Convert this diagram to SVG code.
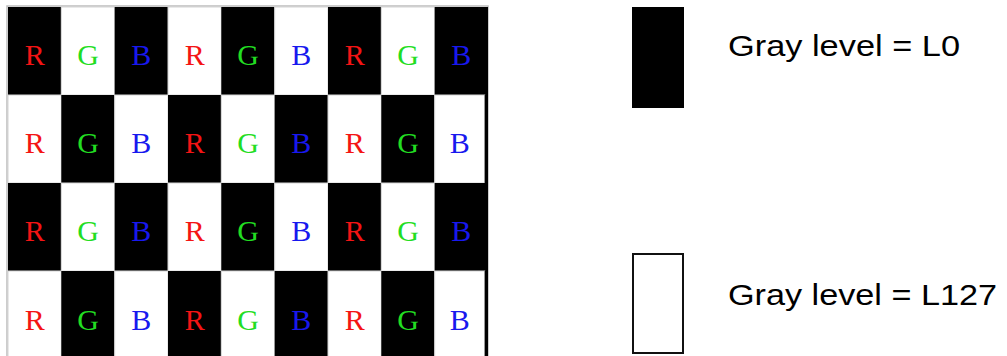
<svg xmlns="http://www.w3.org/2000/svg" width="1007" height="356" viewBox="0 0 1007 356">
<style>
.k{fill:#000}
.w{fill:#fff;stroke:#d4d4d4;stroke-width:1}
.c{font-family:"Liberation Serif","DejaVu Serif",serif;font-size:30px;text-anchor:middle}
.r{fill:#f41414}
.g{fill:#22dd22}
.b{fill:#1818ee}
.lab{font-family:"Liberation Sans",Arial,sans-serif;font-size:29px;fill:#000}
</style>
<rect width="1007" height="356" fill="#fff"/>
<g id="grid">
<rect x="7" y="6" width="481" height="360" fill="#fff" stroke="#bdbdbd" stroke-width="1.5"/>
<!-- row 1 -->
<rect class="k" x="8" y="7" width="53.3" height="88"/>
<rect class="w" x="61.3" y="7" width="53.3" height="88"/>
<rect class="k" x="114.7" y="7" width="53.3" height="88"/>
<rect class="w" x="168" y="7" width="53.3" height="88"/>
<rect class="k" x="221.3" y="7" width="53.3" height="88"/>
<rect class="w" x="274.7" y="7" width="53.3" height="88"/>
<rect class="k" x="328" y="7" width="53.3" height="88"/>
<rect class="w" x="381.3" y="7" width="53.3" height="88"/>
<rect class="k" x="434.7" y="7" width="53.3" height="88"/>
<!-- row 2 -->
<rect class="w" x="8" y="95" width="53.3" height="88"/>
<rect class="k" x="61.3" y="95" width="53.3" height="88"/>
<rect class="w" x="114.7" y="95" width="53.3" height="88"/>
<rect class="k" x="168" y="95" width="53.3" height="88"/>
<rect class="w" x="221.3" y="95" width="53.3" height="88"/>
<rect class="k" x="274.7" y="95" width="53.3" height="88"/>
<rect class="w" x="328" y="95" width="53.3" height="88"/>
<rect class="k" x="381.3" y="95" width="53.3" height="88"/>
<rect class="w" x="434.7" y="95" width="50" height="88"/>
<rect class="k" x="484.7" y="95" width="3.3" height="88"/>
<!-- row 3 -->
<rect class="k" x="8" y="183" width="53.3" height="88"/>
<rect class="w" x="61.3" y="183" width="53.3" height="88"/>
<rect class="k" x="114.7" y="183" width="53.3" height="88"/>
<rect class="w" x="168" y="183" width="53.3" height="88"/>
<rect class="k" x="221.3" y="183" width="53.3" height="88"/>
<rect class="w" x="274.7" y="183" width="53.3" height="88"/>
<rect class="k" x="328" y="183" width="53.3" height="88"/>
<rect class="w" x="381.3" y="183" width="53.3" height="88"/>
<rect class="k" x="434.7" y="183" width="53.3" height="88"/>
<!-- row 4 -->
<rect class="w" x="8" y="271" width="53.3" height="88"/>
<rect class="k" x="61.3" y="271" width="53.3" height="88"/>
<rect class="w" x="114.7" y="271" width="53.3" height="88"/>
<rect class="k" x="168" y="271" width="53.3" height="88"/>
<rect class="w" x="221.3" y="271" width="53.3" height="88"/>
<rect class="k" x="274.7" y="271" width="53.3" height="88"/>
<rect class="w" x="328" y="271" width="53.3" height="88"/>
<rect class="k" x="381.3" y="271" width="53.3" height="88"/>
<rect class="w" x="434.7" y="271" width="50" height="88"/>
<rect class="k" x="484.7" y="271" width="3.3" height="88"/>
<!-- letters -->
<g id="row1">
<text class="c r" x="34.7" y="65">R</text><text class="c g" x="88" y="65">G</text><text class="c b" x="141.3" y="65">B</text>
<text class="c r" x="194.7" y="65">R</text><text class="c g" x="248" y="65">G</text><text class="c b" x="301.3" y="65">B</text>
<text class="c r" x="354.7" y="65">R</text><text class="c g" x="408" y="65">G</text><text class="c b" x="461.3" y="65">B</text>
</g>
<g id="row2">
<text class="c r" x="34.7" y="153">R</text><text class="c g" x="88" y="153">G</text><text class="c b" x="141.3" y="153">B</text>
<text class="c r" x="194.7" y="153">R</text><text class="c g" x="248" y="153">G</text><text class="c b" x="301.3" y="153">B</text>
<text class="c r" x="354.7" y="153">R</text><text class="c g" x="408" y="153">G</text><text class="c b" x="459.7" y="153">B</text>
</g>
<g id="row3">
<text class="c r" x="34.7" y="241">R</text><text class="c g" x="88" y="241">G</text><text class="c b" x="141.3" y="241">B</text>
<text class="c r" x="194.7" y="241">R</text><text class="c g" x="248" y="241">G</text><text class="c b" x="301.3" y="241">B</text>
<text class="c r" x="354.7" y="241">R</text><text class="c g" x="408" y="241">G</text><text class="c b" x="461.3" y="241">B</text>
</g>
<g id="row4">
<text class="c r" x="34.7" y="330">R</text><text class="c g" x="88" y="330">G</text><text class="c b" x="141.3" y="330">B</text>
<text class="c r" x="194.7" y="330">R</text><text class="c g" x="248" y="330">G</text><text class="c b" x="301.3" y="330">B</text>
<text class="c r" x="354.7" y="330">R</text><text class="c g" x="408" y="330">G</text><text class="c b" x="459.7" y="330">B</text>
</g>
</g>
<g id="legend-l0">
<rect x="632" y="7" width="52" height="101" fill="#000"/>
<text class="lab" x="728" y="56" textLength="232" lengthAdjust="spacingAndGlyphs">Gray level = L0</text>
</g>
<g id="legend-l127">
<rect x="633" y="254" width="50" height="99" fill="#fff" stroke="#111" stroke-width="2"/>
<text class="lab" x="728" y="305" textLength="269" lengthAdjust="spacingAndGlyphs">Gray level = L127</text>
</g>
<g id="connectors"/>
</svg>
